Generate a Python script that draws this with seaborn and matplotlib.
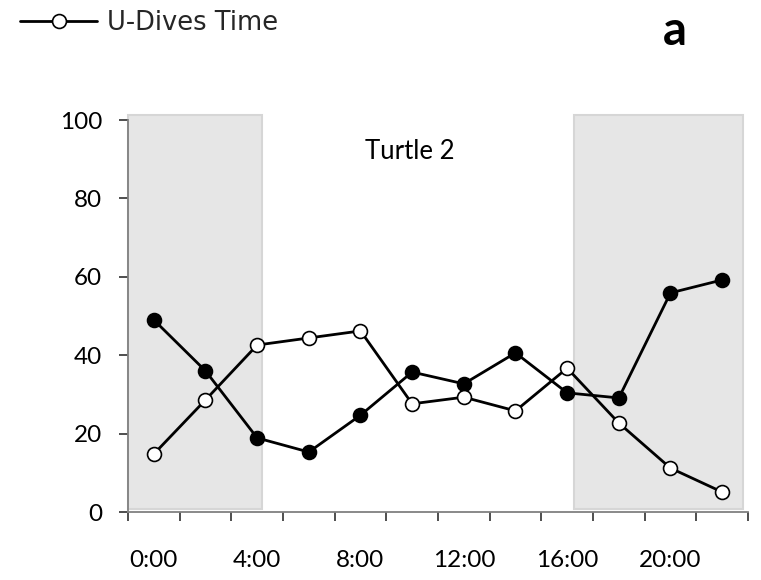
import numpy as np
import pandas as pd
import matplotlib
matplotlib.use("Agg")
import matplotlib.pyplot as plt
import seaborn as sns

# ---- data ----
hours = ["0:00", "2:00", "4:00", "6:00", "8:00", "10:00",
         "12:00", "14:00", "16:00", "18:00", "20:00", "22:00"]
u_dives = [14.8, 28.6, 42.6, 44.4, 46.2, 27.6, 29.3, 25.8, 36.7, 22.7, 11.2, 5.1]
other_dives = [49.0, 36.0, 18.9, 15.3, 24.7, 35.7, 32.7, 40.6, 30.4, 29.1, 55.9, 59.2]
y_ticks = [0, 20, 40, 60, 80, 100]
x_labels = ["0:00", "4:00", "8:00", "12:00", "16:00", "20:00"]
night_start = [-0.5, 8.13]
night_end = [2.09, 11.4]

sns.set_theme(style="white")
plt.rcParams['font.family'] = ['Lato', 'DejaVu Sans']

df = pd.DataFrame({
    "pos": np.arange(len(hours)),
    "hour": hours,
    "U-Dives Time": u_dives,
    "Other": other_dives,
})

fig = plt.figure(figsize=(7.61, 5.80), dpi=100)
ax = fig.add_axes([0.1682, 0.1172, 0.8147, 0.6759])

# night shading
for s, e in zip(night_start, night_end):
    ax.axvspan(s, e, ymin=0.008, ymax=1.013, facecolor="#e6e6e6",
               edgecolor="#d6d6d6", linewidth=1.5, clip_on=False, zorder=0)

sns.lineplot(data=df, x="pos", y="Other", ax=ax, color="black", linewidth=2.0,
             marker="o", markersize=10, markerfacecolor="black",
             markeredgecolor="black", markeredgewidth=1.2, zorder=3)
sns.lineplot(data=df, x="pos", y="U-Dives Time", ax=ax, color="black", linewidth=2.0,
             marker="o", markersize=10, markerfacecolor="white",
             markeredgecolor="black", markeredgewidth=1.2, zorder=4,
             label="U-Dives Time")

ax.set_xlim(-0.5, len(hours) - 0.5)
ax.set_ylim(0, 100)
ax.set_xlabel("")
ax.set_ylabel("")

# spines
for sp in ["top", "right"]:
    ax.spines[sp].set_visible(False)
for sp in ["left", "bottom"]:
    ax.spines[sp].set_color("#808080")
    ax.spines[sp].set_linewidth(1.3)

# y ticks
ax.set_yticks(y_ticks)
ax.set_yticklabels([str(v) for v in y_ticks])
ax.tick_params(axis="y", direction="out", length=6.5, width=1.3, color="#404040",
               labelsize=17.5, pad=12, left=True, labelcolor="black")

# x ticks: boundaries as major ticks, labels as minor
ax.set_xticks(np.arange(-0.5, len(hours), 1.0))
ax.set_xticklabels([])
label_pos = [hours.index(h) for h in x_labels]
ax.set_xticks(label_pos, minor=True)
ax.set_xticklabels(x_labels, minor=True)
ax.tick_params(axis="x", which="major", direction="out", length=6.5, width=1.3,
               color="#404040", bottom=True)
ax.tick_params(axis="x", which="minor", length=0, labelsize=17.5, pad=27,
               labelcolor="black", bottom=True)

ax.text(4.96, 92.0, "Turtle 2", ha="center", va="center", fontsize=18.5, color="black")

fig.text(0.887, 0.947, "a", ha="center", va="center", fontsize=34,
         fontweight="bold", color="black")

handles, labels = ax.get_legend_handles_labels()
if ax.legend_ is not None:
    ax.legend_.remove()
fig.legend(handles, labels, loc="center left", bbox_to_anchor=(-0.004, 0.960),
           frameon=False, handlelength=3.0, handletextpad=0.4,
           prop={"family": "DejaVu Sans", "size": 18.5})

fig.savefig("out.png", dpi=100)
